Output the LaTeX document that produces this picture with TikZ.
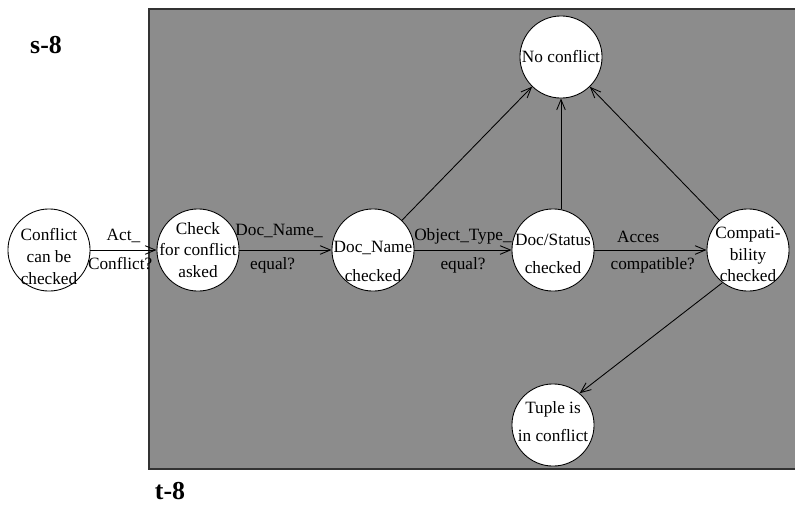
\documentclass[tikz,border=0pt]{standalone}
\usepackage{fontspec}
\setmainfont{Liberation Serif}
\usetikzlibrary{arrows.meta}
\definecolor{regiongray}{RGB}{140,140,140}

\begin{document}
\begin{tikzpicture}[x=0.58pt, y=-0.58pt,
	stat/.style = {circle, draw, fill=white, line width=0.5pt, minimum size=47.6pt, inner sep=0pt},
	txt/.style = {align=center, inner sep=0pt, font=\fontsize{10}{12.5}\selectfont},
	trans/.style = {draw, line width=0.5pt, -{Straight Barb[length=6pt,width=5pt]}},
	lbl/.style = {font=\fontsize{10}{12}\selectfont, inner sep=1pt}]

	\useasboundingbox (0,0) rectangle (795,504);

	% draw the gray region
	\filldraw [fill=regiongray, draw=black!80, line width=0.6pt] (149,9) rectangle (800,469);
	\node [font=\fontsize{15}{18}\selectfont\bfseries] (s8) at (46,45) {s-8};
	\node [font=\fontsize{15}{18}\selectfont\bfseries] (t8) at (170,491) {t-8};

	% draw the states
	\node [stat, label={[txt, yshift=-3.8pt]center:{Conflict\\can be\\checked}}] (conf) at (49,250) {};
	\node [stat, label={[txt, yshift=0pt]center:{Check\\for conflict\\asked}}] (check) at (198,250) {};
	\node [stat, label={[txt, yshift=-6.7pt]center:{Doc\_Name\\[4.6pt]checked}}] (dname) at (373,250) {};
	\node [stat, label={[txt, yshift=-2.3pt]center:{Doc/Status\\[4pt]checked}}] (dstat) at (553,250) {};
	\node [stat, label={[txt, yshift=-2.6pt]center:{Compati-\\bility\\checked}}] (compat) at (748,250) {};
	\node [stat, label={[txt]center:{No conflict}}] (noconf) at (561,57) {};
	\node [stat, label={[txt, yshift=2pt]center:{Tuple is\\[3.5pt]in conflict}}] (tuple) at (553,425) {};

	% draw the transitions
	\draw [trans] (conf) -- (check)
		node [lbl, midway, above=3pt] {Act\_}
		node [lbl, pos=0.45, below=3pt] {Conflict?};
	\draw [trans] (check) -- (dname)
		node [lbl, pos=0.43, above=6pt] {Doc\_Name\_}
		node [lbl, pos=0.36, below=3pt] {equal?};
	\draw [trans] (dname) -- (dstat)
		node [lbl, midway, above=2pt] {Object\_Type\_}
		node [lbl, midway, below=3pt] {equal?};
	\draw [trans] (dstat) -- (compat)
		node [lbl, pos=0.39, above=3pt] {Acces}
		node [lbl, pos=0.52, below=3pt] {compatible?};

	\draw [trans] (dname) -- (noconf);
	\draw [trans] (dstat.north -| noconf.south) -- (noconf.south);
	\draw [trans] (compat) -- (noconf);
	\draw [trans] (compat.-128) -- (tuple.50);
\end{tikzpicture}
\end{document}
